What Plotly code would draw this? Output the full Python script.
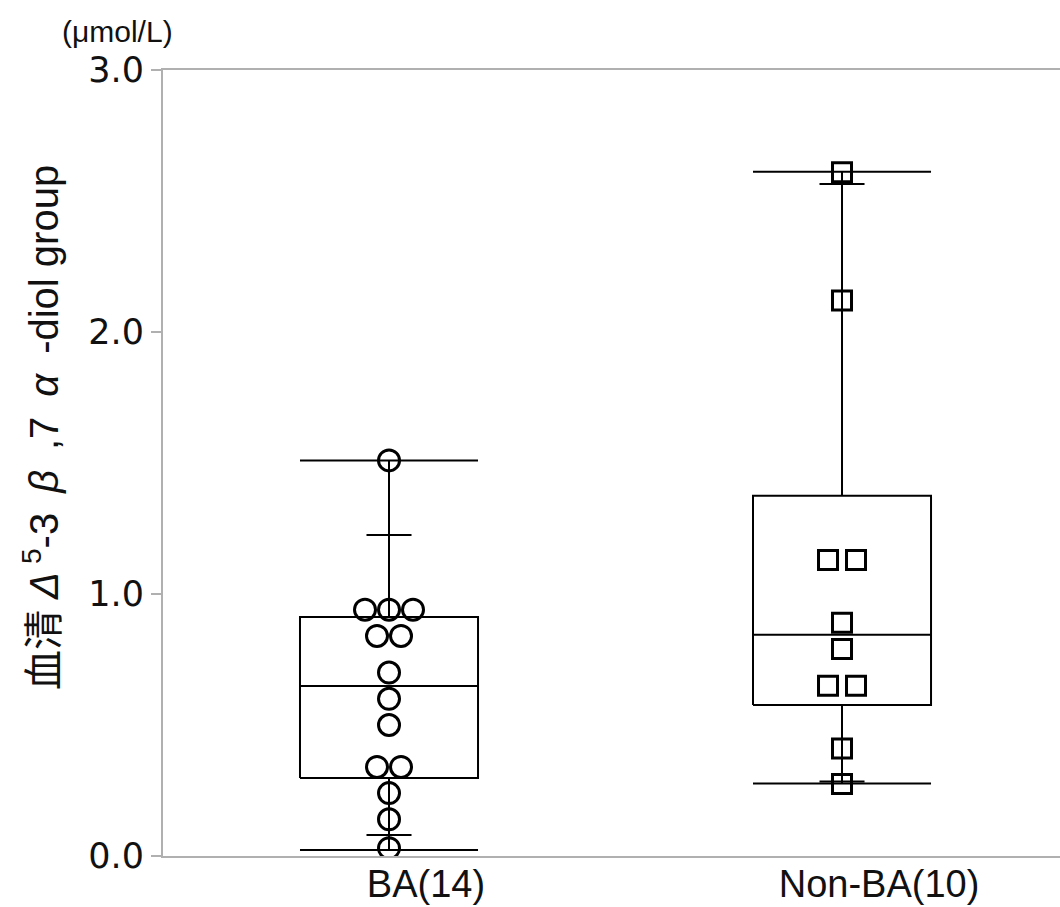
import plotly.graph_objects as go
from collections import Counter

# ---- data ----
groups = ["BA(14)", "Non-BA(10)"]
ba_values = [1.51, 0.94, 0.94, 0.94, 0.84, 0.84, 0.70, 0.60, 0.50, 0.34, 0.34, 0.24, 0.14, 0.03]
nonba_values = [2.61, 2.12, 1.13, 1.13, 0.89, 0.79, 0.65, 0.65, 0.41, 0.275]

# box statistics: lower cap, lower quantile tick, Q1, median, Q3, upper quantile tick, upper cap
ba_stats = [0.023, 0.08, 0.298, 0.649, 0.912, 1.225, 1.51]
nonba_stats = [0.277, 0.284, 0.576, 0.844, 1.375, 2.565, 2.612]

y_ticks = [0.0, 1.0, 2.0, 3.0]

# ---- style ----
BOX_HALF = 0.1965
TICK_HALF = 0.0497
LINE_W = 2

fig = go.Figure()


def box_traces(center, stats):
    lo, p10, q1, med, q3, p90, hi = stats
    xs, ys = [], []
    xs += [center - BOX_HALF, center + BOX_HALF, center + BOX_HALF, center - BOX_HALF, center - BOX_HALF, None]
    ys += [q1, q1, q3, q3, q1, None]
    xs += [center - BOX_HALF, center + BOX_HALF, None]
    ys += [med, med, None]
    xs += [center, center, None, center, center, None]
    ys += [q3, hi, None, q1, lo, None]
    xs += [center - BOX_HALF, center + BOX_HALF, None, center - BOX_HALF, center + BOX_HALF, None]
    ys += [hi, hi, None, lo, lo, None]
    xs += [center - TICK_HALF, center + TICK_HALF, None, center - TICK_HALF, center + TICK_HALF, None]
    ys += [p90, p90, None, p10, p10, None]
    fig.add_trace(go.Scatter(x=xs, y=ys, mode="lines",
                             line=dict(color="black", width=LINE_W),
                             hoverinfo="skip", showlegend=False))


def jittered(center, values, spacing):
    counts = Counter(values)
    seen = Counter()
    xs = []
    for v in values:
        n = counts[v]
        i = seen[v]
        seen[v] += 1
        xs.append(center + (i - (n - 1) / 2) * spacing)
    return xs


box_traces(0, ba_stats)
box_traces(1, nonba_stats)

fig.add_trace(go.Scatter(
    x=jittered(0, ba_values, 0.053), y=ba_values, mode="markers",
    marker=dict(symbol="circle-open", size=21, color="black", line=dict(width=3)),
    showlegend=False))
fig.add_trace(go.Scatter(
    x=jittered(1, nonba_values, 0.0618), y=nonba_values, mode="markers",
    marker=dict(symbol="square-open", size=19, color="black", line=dict(width=3)),
    showlegend=False))

y_title = ("血清 <i>Δ</i>\u2009<sup>5</sup>-3\u2002<i>β</i>\u2002,7\u2002"
           "<i>α</i>\u2002-diol group")

fig.update_layout(
    width=1060, height=907,
    margin=dict(l=163, r=0, t=70, b=51),
    paper_bgcolor="white", plot_bgcolor="white",
    showlegend=False,
    xaxis=dict(
        range=[-0.4989, 1.4812], automargin=False,
        tickvals=[0, 1], ticktext=groups,
        showgrid=False, zeroline=False,
        showline=True, mirror=True, linecolor="#b0b0b0", linewidth=2,
        ticks="", ticklabelshift=37, ticklabelstandoff=-7,
        tickfont=dict(family="Liberation Sans, Arial, Noto Sans CJK JP", size=38, color="#111111"),
    ),
    yaxis=dict(
        range=[0, 3], tickvals=y_ticks, ticktext=[f"{v:.1f}" for v in y_ticks],
        automargin=False,
        showgrid=False, zeroline=False,
        showline=True, linecolor="#b0b0b0", linewidth=2,
        ticks="outside", ticklen=10, tickwidth=1.5, tickcolor="#b0b0b0",
        tickfont=dict(family="DejaVu Sans, Verdana", size=35, color="#111111"),
    ),
    annotations=[
        dict(text="(μmol/L)", xref="paper", yref="paper",
             x=(117 - 163) / 897, y=(856 - 32) / 786, xanchor="center", yanchor="middle",
             showarrow=False,
             font=dict(family="Liberation Sans, Arial", size=30, color="#111111")),
        dict(text=y_title, xref="paper", yref="paper",
             x=(41 - 163) / 897, y=(856 - 428) / 786, xanchor="center", yanchor="middle",
             textangle=-90, showarrow=False,
             font=dict(family="Liberation Sans, Arial, Noto Sans CJK JP", size=40, color="#111111")),
    ],
)

fig.write_html("out.html")
